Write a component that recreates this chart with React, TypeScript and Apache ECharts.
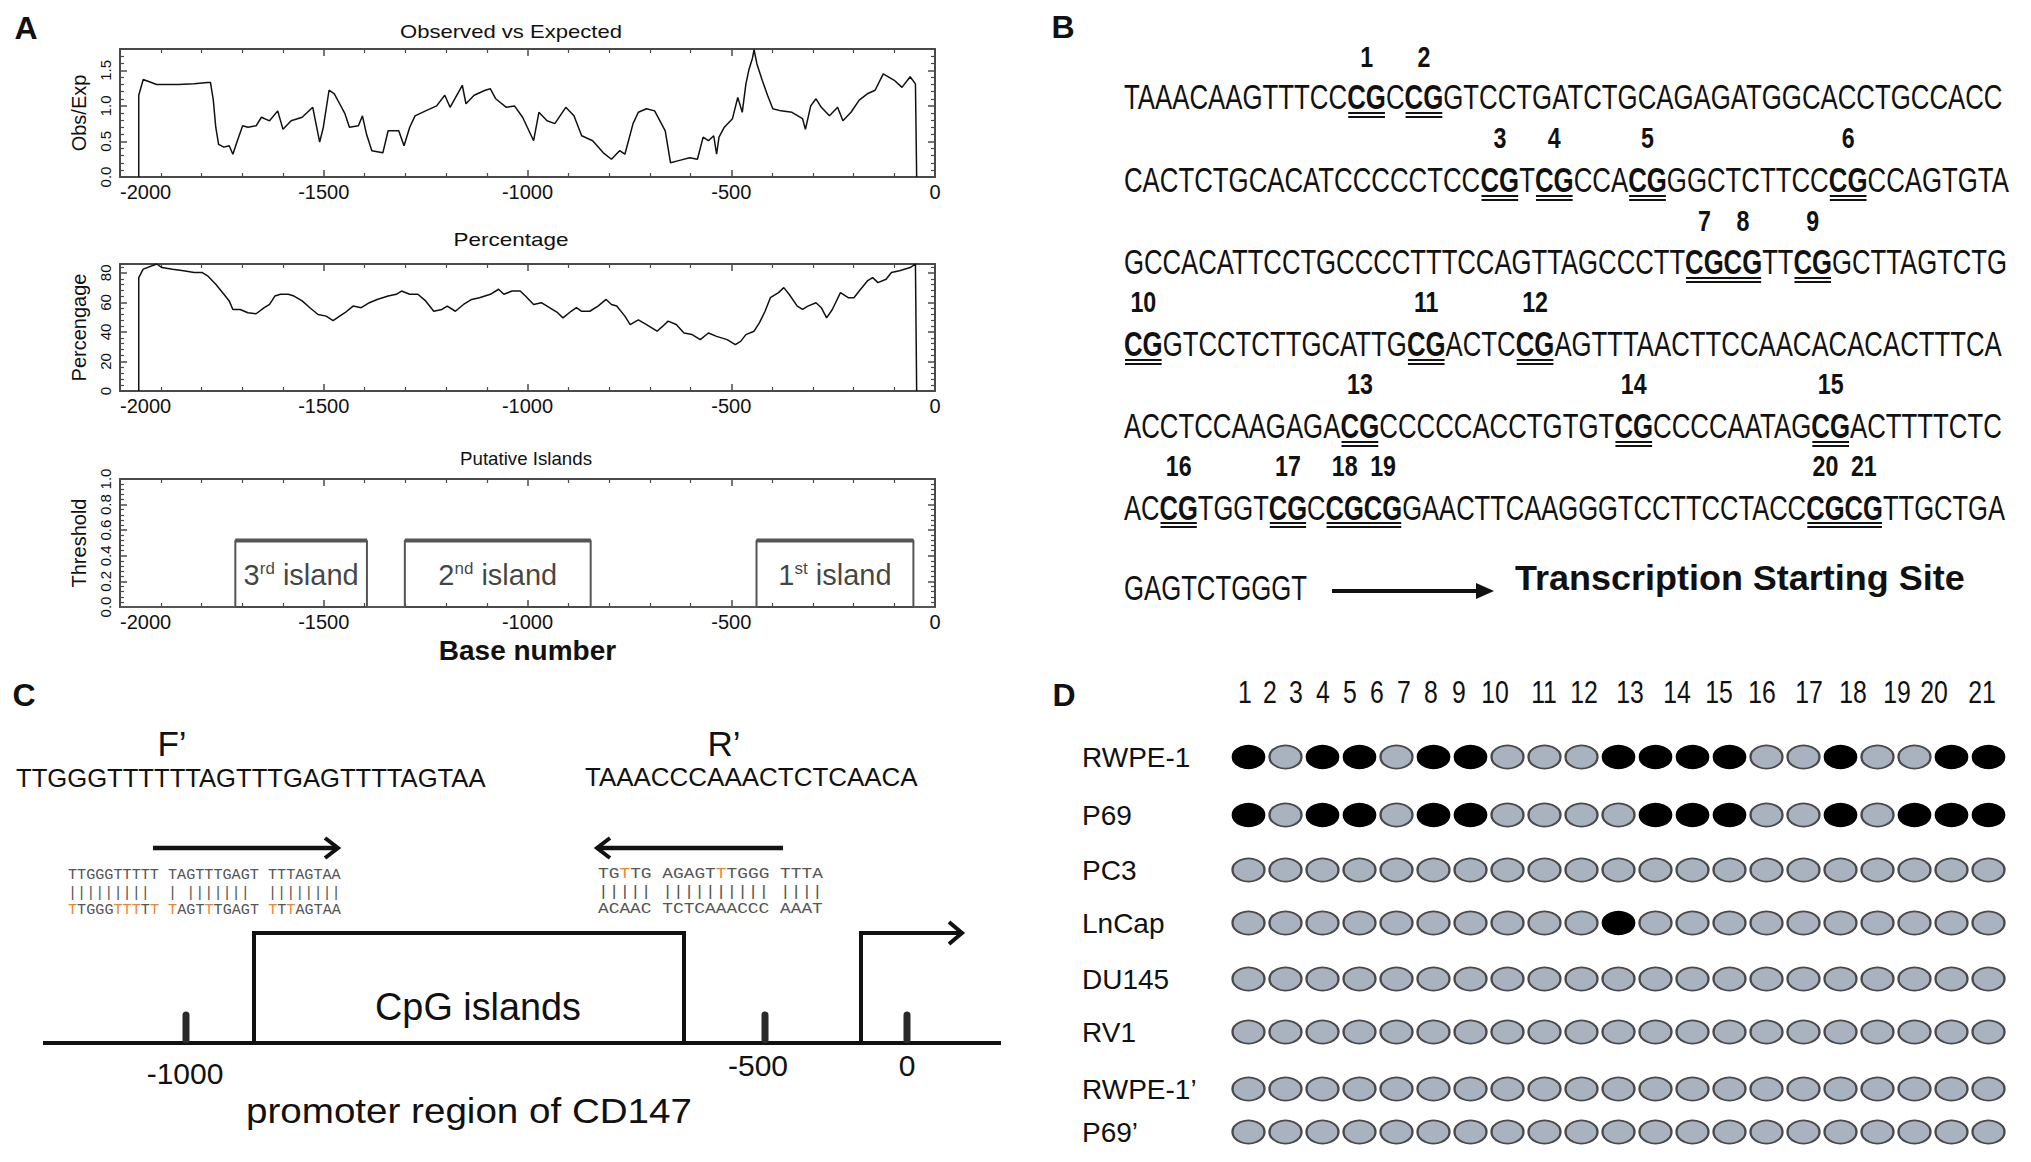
import React, { useEffect, useRef } from "react";
import * as echarts from "echarts";

const SANS = "Liberation Sans";
const MONO = "Liberation Mono";
const INK = "#111111";
const AXIS_GRAY = "#4a4a4a";

/* ================= Panel A data ================= */
const baseNumberTicks = [-2000, -1500, -1000, -500, 0];
const obsExpPoints: [number, number][] = [
  [-1954, 0], [-1954, 1.15], [-1943, 1.37], [-1910, 1.30], [-1857, 1.30], [-1818, 1.31], [-1785, 1.33],
  [-1778, 1.33], [-1771, 1.08], [-1765, 0.70], [-1758, 0.46], [-1745, 0.42], [-1732, 0.44], [-1723, 0.32],
  [-1712, 0.51], [-1699, 0.72], [-1686, 0.70], [-1666, 0.72], [-1653, 0.84], [-1633, 0.79], [-1613, 0.93],
  [-1600, 0.67], [-1580, 0.79], [-1553, 0.84], [-1527, 0.98], [-1510, 0.49], [-1501, 0.70], [-1487, 1.22],
  [-1474, 1.17], [-1461, 1.03], [-1448, 0.89], [-1437, 0.70], [-1415, 0.72], [-1405, 0.86], [-1395, 0.60],
  [-1382, 0.37], [-1355, 0.34], [-1342, 0.65], [-1316, 0.65], [-1303, 0.44], [-1289, 0.70], [-1276, 0.86],
  [-1250, 0.93], [-1223, 1.00], [-1203, 1.15], [-1190, 0.98], [-1160, 1.29], [-1151, 1.03], [-1131, 1.15],
  [-1104, 1.22], [-1091, 1.24], [-1078, 1.10], [-1052, 0.98], [-1032, 1.00], [-1012, 0.84], [-985, 0.51],
  [-972, 0.91], [-952, 0.79], [-933, 0.75], [-906, 0.98], [-886, 0.86], [-867, 0.58], [-840, 0.51],
  [-814, 0.34], [-794, 0.25], [-774, 0.37], [-761, 0.32], [-741, 0.75], [-728, 0.91], [-708, 0.96],
  [-688, 0.93], [-675, 0.79], [-662, 0.65], [-649, 0.20], [-629, 0.23], [-602, 0.27], [-583, 0.25],
  [-569, 0.56], [-556, 0.51], [-543, 0.58], [-536, 0.32], [-530, 0.56], [-517, 0.70], [-497, 0.82],
  [-484, 1.12], [-473, 0.91], [-464, 1.31], [-457, 1.50], [-448, 1.67], [-444, 1.79], [-437, 1.59],
  [-424, 1.36], [-411, 1.15], [-398, 0.96], [-378, 0.93], [-351, 0.91], [-325, 0.82], [-318, 0.67],
  [-305, 1.00], [-292, 1.10], [-279, 0.98], [-259, 0.86], [-239, 0.98], [-226, 0.79], [-206, 0.91],
  [-186, 1.08], [-166, 1.17], [-147, 1.22], [-127, 1.45], [-100, 1.36], [-81, 1.26], [-61, 1.41],
  [-48, 1.31], [-45, 0],
];
const percentagePoints: [number, number][] = [
  [-1954, 0], [-1954, 76.8], [-1943, 82.5], [-1910, 86], [-1897, 83.6], [-1871, 82.5], [-1844, 81.4],
  [-1818, 80.2], [-1798, 80.2], [-1785, 78], [-1765, 72.3], [-1745, 65.5], [-1732, 61], [-1723, 55.2],
  [-1705, 55.2], [-1686, 53], [-1666, 52.3], [-1646, 56.4], [-1633, 58.6], [-1620, 64.3], [-1606, 65.5],
  [-1587, 65.5], [-1573, 64.3], [-1553, 61], [-1534, 56.4], [-1514, 51.8], [-1494, 50.7], [-1477, 47.7],
  [-1461, 50.7], [-1448, 53], [-1428, 57.5], [-1408, 56.4], [-1388, 59.8], [-1369, 62], [-1342, 64.3],
  [-1322, 65.5], [-1309, 67.7], [-1289, 65.5], [-1269, 65.5], [-1250, 61], [-1230, 54], [-1210, 55.2],
  [-1197, 57.5], [-1177, 54], [-1157, 58.6], [-1137, 62], [-1118, 63.2], [-1091, 65.5], [-1071, 68.9],
  [-1058, 65.5], [-1038, 67.7], [-1018, 67.7], [-1005, 64.3], [-985, 58.6], [-966, 59.8], [-946, 56.4],
  [-926, 53], [-913, 49.5], [-893, 54], [-880, 56.4], [-867, 54], [-847, 54], [-827, 57.5], [-807, 62],
  [-794, 58.6], [-781, 57.5], [-761, 50.7], [-748, 45], [-728, 48.2], [-708, 45], [-682, 40.5],
  [-668, 43.9], [-655, 47.3], [-635, 45], [-616, 39.3], [-596, 38.2], [-576, 34.8], [-556, 39.3],
  [-536, 37], [-510, 34.8], [-490, 31.4], [-477, 33.6], [-464, 38.2], [-444, 40.5], [-431, 46.1],
  [-417, 54], [-404, 63.2], [-384, 66.6], [-371, 70], [-358, 65.5], [-338, 57.5], [-325, 55.2],
  [-312, 57.5], [-292, 59.8], [-279, 56.4], [-266, 49.5], [-252, 55.2], [-232, 66.6], [-213, 63.2],
  [-199, 63.2], [-186, 67.7], [-166, 74.5], [-153, 76.8], [-140, 73.4], [-120, 75.7], [-107, 80.2],
  [-87, 81.4], [-61, 83.6], [-48, 86], [-45, 0],
];
const islandStart = [-1717, -1301, -438];
const islandEnd = [-1394, -845, -53];
const islandNumber = ["3", "2", "1"];
const islandSuffix = ["rd", "nd", "st"];
const islandThreshold = 0.52;

/* ================= Panel B data ================= */
// even index = plain bases, odd index = bold, underlined CpG sites
const promoterLines: string[][] = [
  ["TAAACAAGTTTCC", "CG", "C", "CG", "GTCCTGATCTGCAGAGATGGCACCTGCCACC"],
  ["CACTCTGCACATCCCCCTCC", "CG", "T", "CG", "CCA", "CG", "GGCTCTTCC", "CG", "CCAGTGTA"],
  ["GCCACATTCCTGCCCCTTTCCAGTTAGCCCTT", "CGCG", "TT", "CG", "GCTTAGTCTG"],
  ["", "CG", "GTCCTCTTGCATTG", "CG", "ACTC", "CG", "AGTTTAACTTCCAACACACACTTTCA"],
  ["ACCTCCAAGAGA", "CG", "CCCCCACCTGTGT", "CG", "CCCCAATAG", "CG", "ACTTTTCTC"],
  ["AC", "CG", "TGGT", "CG", "C", "CGCG", "GAACTTCAAGGGTCCTTCCTACC", "CGCG", "TTGCTGA"],
];
const promoterTail = "GAGTCTGGGT";
const tssLabel = "Transcription Starting Site";

/* ================= Panel C data ================= */
const forwardPrimer = "TTGGGTTTTTTAGTTTGAGTTTTAGTAA";
const reversePrimer = "TAAACCCAAACTCTCAACA";
const fwdGenomic = "TTGGGTTTTT TAGTTTGAGT TTTAGTAA";
const fwdBars = "|||||||||  | |||||||  ||||||||";
const fwdConverted = "TTGGGTTTTT TAGTTTGAGT TTTAGTAA";
const fwdConvertedOrange = [0, 5, 6, 7, 9, 11, 15, 22, 24];
const revTop = "TGTTG AGAGTTTGGG TTTA";
const revTopOrange = [2, 11];
const revBars = "||||| |||||||||| ||||";
const revBottom = "ACAAC TCTCAAACCC AAAT";
const promoterTickLabels = ["-1000", "-500", "0"];

/* ================= Panel D data ================= */
const cpgSites = ["1", "2", "3", "4", "5", "6", "7", "8", "9", "10", "11", "12", "13", "14", "15", "16", "17", "18", "19", "20", "21"];
const cellLines = ["RWPE-1", "P69", "PC3", "LnCap", "DU145", "RV1", "RWPE-1\u2019", "P69\u2019"];
const methylation: number[][] = [
  [1, 0, 1, 1, 0, 1, 1, 0, 0, 0, 1, 1, 1, 1, 0, 0, 1, 0, 0, 1, 1],
  [1, 0, 1, 1, 0, 1, 1, 0, 0, 0, 0, 1, 1, 1, 0, 0, 1, 0, 1, 1, 1],
  [0, 0, 0, 0, 0, 0, 0, 0, 0, 0, 0, 0, 0, 0, 0, 0, 0, 0, 0, 0, 0],
  [0, 0, 0, 0, 0, 0, 0, 0, 0, 0, 1, 0, 0, 0, 0, 0, 0, 0, 0, 0, 0],
  [0, 0, 0, 0, 0, 0, 0, 0, 0, 0, 0, 0, 0, 0, 0, 0, 0, 0, 0, 0, 0],
  [0, 0, 0, 0, 0, 0, 0, 0, 0, 0, 0, 0, 0, 0, 0, 0, 0, 0, 0, 0, 0],
  [0, 0, 0, 0, 0, 0, 0, 0, 0, 0, 0, 0, 0, 0, 0, 0, 0, 0, 0, 0, 0],
  [0, 0, 0, 0, 0, 0, 0, 0, 0, 0, 0, 0, 0, 0, 0, 0, 0, 0, 0, 0, 0],
];

/* ================= layout (pixels) ================= */
const A_LEFT = 120;
const A_WIDTH = 815;
const A_GRIDS = [
  { top: 49, height: 128 },
  { top: 264, height: 127 },
  { top: 479, height: 128 },
];
const A_TITLES = [
  { text: "Observed vs Expected", x: 511, y: 32, w: 222 },
  { text: "Percentage", x: 511, y: 240, w: 115 },
  { text: "Putative Islands", x: 526, y: 459, w: 132 },
];
const B_X0 = 1124;
const B_LINE_Y = [97, 180, 262, 344, 426, 507];
const B_NUM_Y = [57, 138, 221, 302, 384, 466];
const B_RIGHT = [2003, 2009, 2007, 2002, 2002, 2005];
const D_HEADER_X = [1245, 1270, 1296, 1323, 1350, 1377, 1404, 1431, 1459, 1495, 1544, 1584, 1630, 1677, 1719, 1762, 1809, 1853, 1897, 1934, 1982];
const D_ROW_Y = [757, 815, 870, 923, 979, 1032, 1089, 1132];
const C_TICK_X = [186, 765, 907];
const C_TICK_LABEL = [
  { x: 185, y: 1073 },
  { x: 758, y: 1065 },
  { x: 907, y: 1065 },
];

let measureCtx: CanvasRenderingContext2D | null = null;
function measure(text: string, size: number, weight = "normal", family = SANS): number {
  if (!measureCtx) measureCtx = document.createElement("canvas").getContext("2d");
  if (!measureCtx) return text.length * size * 0.6;
  measureCtx.font = `${weight} ${size}px "${family}"`;
  return measureCtx.measureText(text).width;
}

type TOpts = {
  size: number;
  weight?: string;
  align?: string;
  color?: string;
  family?: string;
  sx?: number;
  fit?: number;
  plain?: string;
  rich?: any;
};
function T(text: string, x: number, y: number, o: TOpts): any {
  const weight = o.weight || "normal";
  const family = o.family || SANS;
  let sx = o.sx ?? 1;
  if (o.fit) sx = o.fit / measure(o.plain ?? text, o.size, weight, family);
  const align = o.align || "center";
  const style: any = {
    text,
    fontSize: o.size,
    fontWeight: weight,
    fontFamily: family,
    fill: o.color || INK,
    align,
    verticalAlign: "middle",
    textAlign: align,
    textVerticalAlign: "middle",
  };
  if (o.rich) style.rich = o.rich;
  return { type: "text", x, y, scaleX: sx, silent: true, style };
}
function L(x1: number, y1: number, x2: number, y2: number, w: number, color = INK, cap = "butt"): any {
  return { type: "line", silent: true, shape: { x1, y1, x2, y2 }, style: { stroke: color, lineWidth: w, lineCap: cap } };
}
function PL(points: number[][], w: number, color = INK): any {
  return { type: "polyline", silent: true, shape: { points }, style: { stroke: color, lineWidth: w, fill: null, lineJoin: "miter" } };
}

function richColored(str: string, orange: number[]): string {
  let out = "";
  for (let i = 0; i < str.length; i++) {
    const tag = orange.includes(i) ? "o" : "g";
    out += `{${tag}|${str[i]}}`;
  }
  return out;
}

function buildOption(): any {
  const grid: any[] = [];
  const xAxis: any[] = [];
  const yAxis: any[] = [];
  const series: any[] = [];
  const g: any[] = [];

  /* ---------- Panel A ---------- */
  const yCfg = [
    { name: "Obs/Exp", max: 1.8, interval: 0.5, fmt: (v: number) => v.toFixed(1), showMax: false },
    { name: "Percengage", max: 86, interval: 20, fmt: (v: number) => String(Math.round(v)), showMax: false },
    { name: "Threshold", max: 1.0, interval: 0.2, fmt: (v: number) => v.toFixed(1), showMax: true },
  ];
  A_GRIDS.forEach((gr, i) => {
    grid.push({ left: A_LEFT, top: gr.top, width: A_WIDTH, height: gr.height, containLabel: false, outerBoundsMode: "none" });
    const axisLine = { show: true, onZero: false, lineStyle: { color: AXIS_GRAY, width: 2 } };
    const axisTick = { show: true, inside: true, length: 7, lineStyle: { color: AXIS_GRAY, width: 1.5 } };
    const minorTick = { show: true, splitNumber: 5, length: 4, lineStyle: { color: AXIS_GRAY, width: 1.2 } };
    const common = { splitLine: { show: false }, minorSplitLine: { show: false }, axisLine, axisTick, minorTick, silent: true };
    xAxis.push({
      ...common,
      type: "value",
      gridIndex: i,
      position: "bottom",
      min: baseNumberTicks[0],
      max: baseNumberTicks[baseNumberTicks.length - 1],
      interval: baseNumberTicks[1] - baseNumberTicks[0],
      axisLabel: {
        show: true,
        fontSize: 20,
        fontFamily: SANS,
        color: INK,
        margin: 5,
        alignMinLabel: "left",
        formatter: (v: number) => String(v),
      },
      name: i === 2 ? "Base number" : "",
      nameLocation: "middle",
      nameGap: 29,
      nameTextStyle: { fontSize: 28, fontWeight: "bold", fontFamily: SANS, color: INK },
    });
    xAxis.push({
      ...common,
      type: "value",
      gridIndex: i,
      position: "top",
      min: baseNumberTicks[0],
      max: baseNumberTicks[baseNumberTicks.length - 1],
      interval: baseNumberTicks[1] - baseNumberTicks[0],
      axisLabel: { show: false },
    });
    yAxis.push({
      ...common,
      type: "value",
      gridIndex: i,
      position: "left",
      min: 0,
      max: yCfg[i].max,
      interval: yCfg[i].interval,
      axisLabel: {
        show: true,
        rotate: 90,
        fontSize: 15,
        fontFamily: SANS,
        color: INK,
        margin: 7,
        formatter: yCfg[i].fmt,
        showMaxLabel: yCfg[i].showMax,
      },
      name: yCfg[i].name,
      nameLocation: "middle",
      nameGap: 31,
      nameTextStyle: { fontSize: 20, fontFamily: SANS, color: INK },
    });
    yAxis.push({
      ...common,
      type: "value",
      gridIndex: i,
      position: "right",
      min: 0,
      max: yCfg[i].max,
      interval: yCfg[i].interval,
      axisLabel: { show: false },
    });
  });

  series.push({
    type: "line",
    xAxisIndex: 0,
    yAxisIndex: 0,
    data: obsExpPoints,
    symbol: "none",
    silent: true,
    lineStyle: { color: INK, width: 1.5 },
  });
  series.push({
    type: "line",
    xAxisIndex: 2,
    yAxisIndex: 2,
    data: percentagePoints,
    symbol: "none",
    silent: true,
    lineStyle: { color: INK, width: 1.5 },
  });
  const outline: any[] = [[baseNumberTicks[0], 0]];
  const tops: any[] = [];
  islandStart.forEach((s, k) => {
    const e = islandEnd[k];
    outline.push([s, 0], [s, islandThreshold], [e, islandThreshold], [e, 0]);
    if (k > 0) tops.push([s, "-"]);
    tops.push([s, islandThreshold], [e, islandThreshold]);
  });
  outline.push([baseNumberTicks[baseNumberTicks.length - 1], 0]);
  series.push({
    type: "line",
    xAxisIndex: 4,
    yAxisIndex: 4,
    data: outline,
    symbol: "none",
    silent: true,
    lineStyle: { color: "#555", width: 2 },
  });
  series.push({
    type: "line",
    xAxisIndex: 4,
    yAxisIndex: 4,
    data: tops,
    symbol: "none",
    silent: true,
    connectNulls: false,
    lineStyle: { color: "#555", width: 4 },
  });
  series.push({
    type: "scatter",
    xAxisIndex: 4,
    yAxisIndex: 4,
    symbolSize: 0,
    silent: true,
    data: islandStart.map((s, k) => ({
      value: [(s + islandEnd[k]) / 2, 0.25],
      label: {
        show: true,
        position: "inside",
        formatter: `{n|${islandNumber[k]}}{s|${islandSuffix[k]}}{n| island}`,
        rich: {
          n: { fontSize: 29, fontFamily: SANS, color: INK, lineHeight: 30 },
          s: { fontSize: 17, fontFamily: SANS, color: INK, lineHeight: 24, verticalAlign: "top" },
        },
      },
    })),
  });

  A_TITLES.forEach((t) => g.push(T(t.text, t.x, t.y, { size: 18, fit: t.w })));
  g.push(T("A", 26, 28, { size: 32, weight: "bold" }));

  /* ---------- Panel B ---------- */
  g.push(T("B", 1063, 27, { size: 32, weight: "bold" }));
  const B_SIZE = 35;
  let site = 0;
  const scales: number[] = [];
  promoterLines.forEach((segs, li) => {
    const widths = segs.map((s, k) => measure(s, B_SIZE, k % 2 ? "bold" : "normal"));
    const total = widths.reduce((a, b) => a + b, 0);
    const sx = (B_RIGHT[li] - B_X0) / total;
    scales.push(sx);
    const y = B_LINE_Y[li];
    let cx = B_X0;
    segs.forEach((s, k) => {
      const w = widths[k] * sx;
      const bold = k % 2 === 1;
      if (s) g.push(T(s, cx, y, { size: B_SIZE, weight: bold ? "bold" : "normal", align: "left", sx }));
      if (bold) {
        g.push(L(cx + 1, y + 16, cx + w - 1, y + 16, 1.8));
        g.push(L(cx + 1, y + 20, cx + w - 1, y + 20, 1.8));
        for (let p = 0; p < s.length; p += 2) {
          const center = cx + (w * (p + 1)) / s.length;
          g.push(T(cpgSites[site], center, B_NUM_Y[li], { size: 29, weight: "bold", sx: 0.8 }));
          site++;
        }
      }
      cx += w;
    });
  });
  const avgScale = scales.reduce((a, b) => a + b, 0) / scales.length;
  g.push(T(promoterTail, B_X0, 588, { size: B_SIZE, align: "left", sx: avgScale }));
  g.push(L(1332, 591, 1480, 591, 4));
  g.push({ type: "polygon", silent: true, shape: { points: [[1476, 583], [1494, 591], [1476, 599]] }, style: { fill: INK } });
  g.push(T(tssLabel, 1515, 578, { size: 35, weight: "bold", align: "left", fit: 450 }));

  /* ---------- Panel C ---------- */
  g.push(T("C", 24, 695, { size: 32, weight: "bold" }));
  g.push(T("F\u2019", 172, 743, { size: 35 }));
  g.push(T("R\u2019", 724, 743, { size: 35 }));
  g.push(T(forwardPrimer, 16, 778, { size: 26, align: "left", fit: 470 }));
  g.push(T(reversePrimer, 585, 777, { size: 26, align: "left", fit: 333 }));
  // primer arrows
  g.push(L(153, 848, 336, 848, 4.5));
  g.push(PL([[325, 838], [338, 848], [325, 858]], 4));
  g.push(L(783, 848, 599, 848, 4.5));
  g.push(PL([[610, 838], [597, 848], [610, 858]], 4));
  // alignments
  const monoRich = {
    g: { fontSize: 14, fontFamily: MONO, fill: "#555" },
    o: { fontSize: 14, fontFamily: MONO, fill: "#E8873A" },
  };
  const fwdFit = 273;
  const revFit = 225;
  g.push(T(fwdGenomic, 68, 875, { size: 14, family: MONO, align: "left", color: "#555", fit: fwdFit }));
  g.push(T(fwdBars, 68, 893, { size: 14, family: MONO, align: "left", color: "#555", sx: fwdFit / measure(fwdGenomic, 14, "normal", MONO) }));
  g.push(
    T(richColored(fwdConverted, fwdConvertedOrange), 68, 910, {
      size: 14,
      family: MONO,
      align: "left",
      color: "#555",
      fit: fwdFit,
      plain: fwdConverted,
      rich: monoRich,
    })
  );
  g.push(
    T(richColored(revTop, revTopOrange), 598, 875, {
      size: 14,
      family: MONO,
      align: "left",
      color: "#555",
      fit: revFit,
      plain: revTop,
      rich: monoRich,
    })
  );
  g.push(T(revBars, 598, 893, { size: 14, family: MONO, align: "left", color: "#555", sx: revFit / measure(revTop, 14, "normal", MONO) }));
  g.push(T(revBottom, 598, 910, { size: 14, family: MONO, align: "left", color: "#555", fit: revFit }));
  // promoter diagram
  g.push(L(43, 1043, 1001, 1043, 4));
  g.push(PL([[254, 1043], [254, 933], [684, 933], [684, 1043]], 4));
  C_TICK_X.forEach((x) => g.push(L(x, 1015, x, 1040, 7, "#2a2a2a", "round")));
  g.push(PL([[861, 1043], [861, 933], [960, 933]], 4));
  g.push(PL([[949, 922], [962, 933], [949, 944]], 4));
  promoterTickLabels.forEach((lab, k) => g.push(T(lab, C_TICK_LABEL[k].x, C_TICK_LABEL[k].y, { size: 30 })));
  g.push(T("CpG islands", 478, 1007, { size: 38, fit: 206 }));
  g.push(T("promoter region of CD147", 469, 1110, { size: 36, fit: 446 }));

  /* ---------- Panel D ---------- */
  g.push(T("D", 1064, 695, { size: 32, weight: "bold" }));
  cpgSites.forEach((s, k) => g.push(T(s, D_HEADER_X[k], 693, { size: 31, sx: 0.8 })));
  const D_LEFT = 1230;
  const D_WIDTH = 777;
  cellLines.forEach((name, r) => {
    const gi = grid.length;
    grid.push({ left: D_LEFT, width: D_WIDTH, top: D_ROW_Y[r] - 20, height: 40, containLabel: false, outerBoundsMode: "none" });
    xAxis.push({ type: "category", gridIndex: gi, data: cpgSites, show: false, boundaryGap: true });
    yAxis.push({
      type: "category",
      gridIndex: gi,
      data: [name],
      boundaryGap: true,
      axisLine: { show: false },
      axisTick: { show: false },
      splitLine: { show: false },
      axisLabel: { show: true, align: "left", margin: D_LEFT - 1082, fontSize: 28, fontFamily: SANS, color: INK },
    });
    series.push({
      type: "scatter",
      xAxisIndex: xAxis.length - 1,
      yAxisIndex: yAxis.length - 1,
      symbol: "circle",
      symbolSize: [32, 23],
      silent: true,
      data: methylation[r].map((m, c) => ({
        value: [c, 0],
        itemStyle: m
          ? { color: "#000000", borderColor: "#000", borderWidth: 1.5, opacity: 1 }
          : { color: "#A9B3C0", borderColor: "#4a4a4a", borderWidth: 2, opacity: 1 },
      })),
    });
  });

  return {
    animation: false,
    backgroundColor: "#ffffff",
    textStyle: { fontFamily: SANS },
    grid,
    xAxis,
    yAxis,
    series,
    graphic: { elements: g },
  };
}

export default function App() {
  const ref = useRef<HTMLDivElement>(null);
  useEffect(() => {
    if (!ref.current) return;
    const chart = echarts.init(ref.current, undefined, { renderer: "svg" });
    chart.setOption(buildOption());
    return () => chart.dispose();
  }, []);
  return (
    <div
      ref={ref}
      style={{ position: "fixed", left: 0, top: 0, width: 2031, height: 1162, background: "#fff" }}
    />
  );
}
